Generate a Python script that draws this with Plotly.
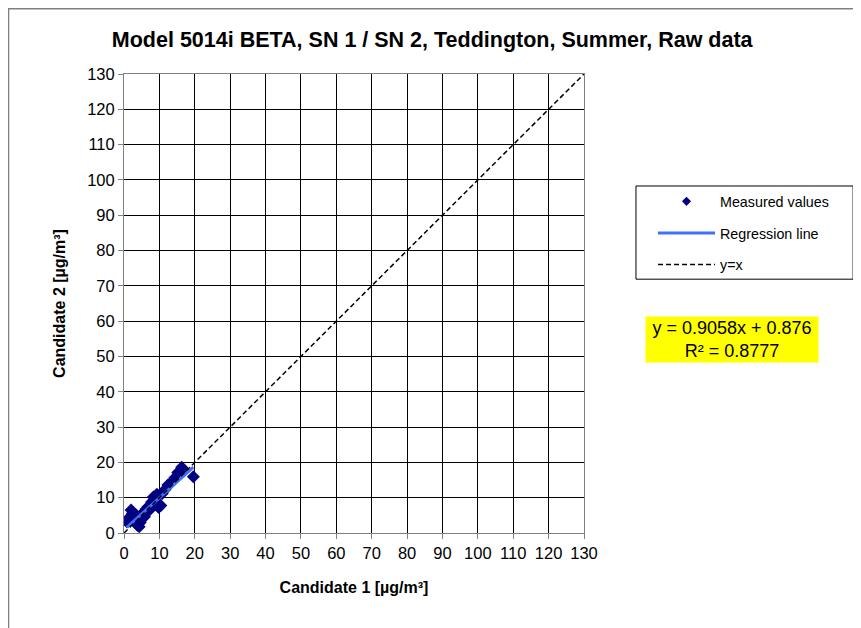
import plotly.graph_objects as go

# measured pairs (candidate 1 vs candidate 2)
cand1 = [0.8, 1.2, 1.6, 2.0, 2.4, 2.8, 3.3, 3.8, 4.3, 4.6, 5.2, 5.8, 6.3, 6.8, 7.3,
         7.8, 8.3, 8.8, 9.3, 9.8, 10.4, 10.8, 11.6, 12.4, 13.3, 14.3, 15.2, 16.3, 17.0, 19.6]
cand2 = [3.2, 3.8, 4.5, 6.5, 5.6, 4.0, 5.2, 2.2, 1.8, 3.0, 5.6, 4.6, 6.8, 7.4, 6.6,
         8.8, 10.2, 9.6, 11.0, 7.2, 7.8, 11.2, 12.3, 13.6, 14.2, 15.6, 17.1, 18.6, 17.6, 15.9]

slope = 0.9058
intercept = 0.876
r2 = 0.8777

tick_vals = list(range(0, 131, 10))
FONT = "Arial, Liberation Sans, sans-serif"

reg_x = [min(cand1), max(cand1)]
reg_y = [slope * v + intercept for v in reg_x]

fig = go.Figure()

fig.add_trace(go.Scatter(
    x=cand1, y=cand2, mode='markers', name='Measured values', showlegend=False,
    marker=dict(symbol='diamond', color='#000080', size=10),
))
# legend-only entry so the legend symbol stays small like the original
fig.add_trace(go.Scatter(
    x=[None], y=[None], mode='markers', name='Measured values', legendgroup='a',
    marker=dict(symbol='diamond', color='#000080', size=7),
))
fig.add_trace(go.Scatter(
    x=reg_x, y=reg_y, mode='lines', name='Regression line', legendgroup='b',
    line=dict(color='#3f6fff', width=3),
))
fig.add_trace(go.Scatter(
    x=[0, 130], y=[0, 130], mode='lines', name='y=x', legendgroup='c',
    line=dict(color='black', width=1.5, dash='5px,3px'),
))

axis_common = dict(
    range=[0, 130], tickvals=tick_vals, showgrid=True, gridcolor='black', gridwidth=1,
    showline=True, linecolor='#808080', linewidth=1, ticks='outside', ticklen=5,
    tickcolor='#808080', zeroline=False, tickfont=dict(size=16.5, color='black', family=FONT),
    mirror=True,
)

fig.update_xaxes(**axis_common,
                 title=dict(text='<b>Candidate 1 [µg/m³]</b>', font=dict(size=16, family=FONT), standoff=21))
fig.update_yaxes(**axis_common,
                 title=dict(text='<b>Candidate 2 [µg/m³]</b>', font=dict(size=16, family=FONT), standoff=17))

# legend box drawn as a shape, outer chart border too
shapes = [
    dict(type='rect', xref='paper', yref='paper', x0=1.113, x1=1.585, y0=0.553, y1=0.756,
         line=dict(color='black', width=1), fillcolor='rgba(0,0,0,0)'),
    dict(type='rect', xref='paper', yref='paper', x0=-0.251, x1=1.65, y0=-0.26, y1=1.142,
         line=dict(color='#808080', width=1.5), fillcolor='rgba(0,0,0,0)', layer='below'),
]

fig.update_layout(
    width=853, height=620,
    margin=dict(l=116, r=277, t=66, b=95),
    paper_bgcolor='white', plot_bgcolor='white',
    font=dict(family=FONT, color='black'),
    title=dict(text='<b>Model 5014i BETA, SN 1 / SN 2, Teddington, Summer, Raw data</b>',
               x=0.67, xref='paper', xanchor='center', y=0.95, yanchor='middle',
               font=dict(size=21.5, family=FONT)),
    legend=dict(x=1.15, y=0.757, xanchor='left', yanchor='top', bgcolor='rgba(0,0,0,0)',
                borderwidth=0, font=dict(size=14.3, family=FONT), itemwidth=57,
                traceorder='grouped', tracegroupgap=10),
    shapes=shapes,
    annotations=[dict(
        xref='paper', yref='paper', x=1.3217, y=0.4216, xanchor='center', yanchor='middle',
        text=f'y = {slope}x + {intercept}<br>R² = {r2}', showarrow=False, align='center',
        bgcolor='#ffff00', font=dict(size=18, family=FONT, color='black'),
        width=170, borderpad=1,
    )],
)

fig.write_html("out.html")
